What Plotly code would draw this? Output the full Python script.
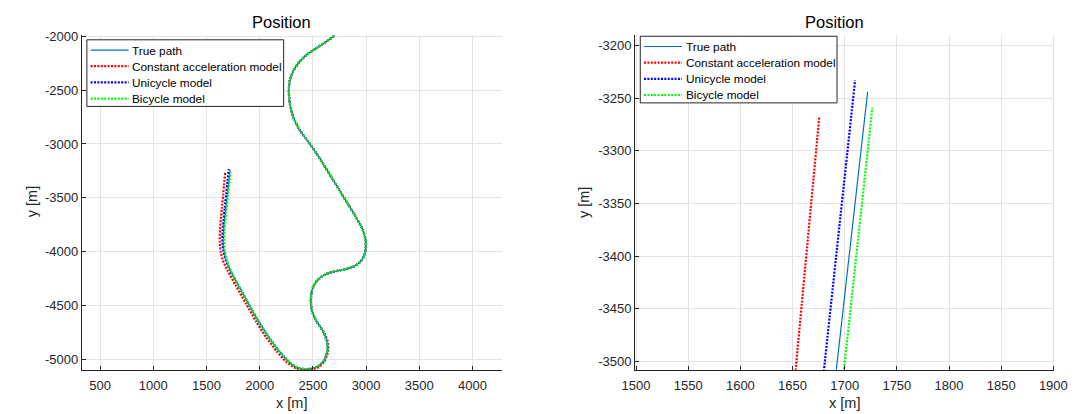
import plotly.graph_objects as go

W, H = 1083, 414
FONT = "Liberation Sans, Arial, sans-serif"

# Ground-truth trajectory [m]
true_x = [2702, 2617, 2525, 2449, 2372, 2311, 2280, 2274, 2284, 2315, 2375, 2450, 2535,
          2612, 2690, 2765, 2840, 2910, 2965, 2995, 2997, 2985, 2950, 2890, 2800, 2700,
          2620, 2540, 2495, 2480, 2492, 2535, 2595, 2630, 2638, 2605, 2540, 2446, 2351,
          2260, 2180, 2085, 1990, 1895, 1800, 1725, 1685, 1664, 1658, 1662, 1670, 1681.5, 1722]
true_y = [-1995, -2056, -2116, -2165, -2239, -2331, -2422, -2514, -2630, -2750, -2870, -2970, -3090,
          -3210, -3335, -3455, -3575, -3690, -3790, -3890, -3960, -4030, -4090, -4135, -4165, -4185,
          -4210, -4268, -4345, -4450, -4555, -4650, -4740, -4830, -4910, -5010, -5070, -5092, -5077,
          -5010, -4920, -4795, -4650, -4485, -4315, -4175, -4075, -3985, -3900, -3800, -3700, -3600, -3244]

# Constant acceleration model estimate
ca_x = [2702, 2617, 2525, 2449, 2372, 2311, 2280, 2274, 2284, 2315, 2375, 2450, 2535,
        2612, 2690, 2765, 2840, 2910, 2965, 2995, 2997, 2985, 2950, 2890, 2800, 2700,
        2620, 2540, 2495, 2480, 2492, 2535, 2600, 2638, 2646, 2612, 2545, 2446, 2345,
        2245, 2160, 2063, 1968, 1872, 1775, 1697, 1655, 1633, 1624, 1627, 1635, 1644.3, 1675.7]
ca_y = [-1995, -2056, -2116, -2165, -2239, -2331, -2422, -2514, -2630, -2750, -2870, -2970, -3090,
        -3210, -3335, -3455, -3575, -3690, -3790, -3890, -3960, -4030, -4090, -4135, -4165, -4185,
        -4210, -4268, -4345, -4450, -4555, -4650, -4740, -4830, -4910, -5015, -5078, -5100, -5085,
        -5020, -4925, -4800, -4652, -4485, -4315, -4175, -4085, -4000, -3900, -3800, -3700, -3600, -3267]

# Unicycle model estimate
uni_x = [2702, 2617, 2525, 2449, 2372, 2311, 2280, 2274, 2284, 2315, 2375, 2450, 2535,
         2612, 2690, 2765, 2840, 2910, 2965, 2995, 2997, 2985, 2950, 2890, 2800, 2700,
         2620, 2540, 2495, 2480, 2492, 2535, 2595, 2630, 2638, 2605, 2540, 2446, 2351,
         2260, 2180, 2085, 1990, 1895, 1800, 1722, 1680, 1657, 1649, 1652, 1661, 1670.4, 1710]
uni_y = [-1995, -2056, -2116, -2165, -2239, -2331, -2422, -2514, -2630, -2750, -2870, -2970, -3090,
         -3210, -3335, -3455, -3575, -3690, -3790, -3890, -3960, -4030, -4090, -4135, -4165, -4185,
         -4210, -4268, -4345, -4450, -4555, -4650, -4740, -4830, -4910, -5010, -5070, -5092, -5077,
         -5010, -4920, -4795, -4650, -4485, -4315, -4175, -4075, -3985, -3900, -3800, -3700, -3600, -3233]

# Bicycle model estimate
bic_x = [2702, 2617, 2525, 2449, 2372, 2311, 2280, 2274, 2284, 2315, 2375, 2450, 2535,
         2612, 2690, 2765, 2840, 2910, 2965, 2995, 2997, 2985, 2950, 2890, 2800, 2700,
         2620, 2540, 2495, 2480, 2492, 2535, 2595, 2630, 2638, 2605, 2540, 2446, 2351,
         2260, 2180, 2085, 1990, 1895, 1800, 1728, 1690, 1672, 1667, 1670, 1678, 1689.2, 1726.5]
bic_y = [-1995, -2056, -2116, -2165, -2239, -2331, -2422, -2514, -2630, -2750, -2870, -2970, -3090,
         -3210, -3335, -3455, -3575, -3690, -3790, -3890, -3960, -4030, -4090, -4135, -4165, -4185,
         -4210, -4268, -4345, -4450, -4555, -4650, -4740, -4830, -4910, -5010, -5070, -5092, -5077,
         -5010, -4920, -4795, -4650, -4485, -4315, -4175, -4075, -3985, -3900, -3800, -3700, -3600, -3259]

# Tick values for the overview and the zoomed panel
full_xticks = [500, 1000, 1500, 2000, 2500, 3000, 3500, 4000]
full_yticks = [-5000, -4500, -4000, -3500, -3000, -2500, -2000]
zoom_xticks = [1500, 1550, 1600, 1650, 1700, 1750, 1800, 1850, 1900]
zoom_yticks = [-3500, -3450, -3400, -3350, -3300, -3250, -3200]

DOT = "2px,1.4px"
series = [
    ("True path", true_x, true_y, dict(color="#0072BD", width=1.2)),
    ("Constant acceleration model", ca_x, ca_y, dict(color="#FF0000", width=2.2, dash=DOT)),
    ("Unicycle model", uni_x, uni_y, dict(color="#0000FF", width=2.2, dash=DOT)),
    ("Bicycle model", bic_x, bic_y, dict(color="#00FF00", width=2.2, dash=DOT)),
]

fig = go.Figure()
for xa, ya in [("x", "y"), ("x2", "y2")]:
    for name, xs, ys, line in series:
        fig.add_trace(go.Scatter(
            x=xs, y=ys, mode="lines", name=name,
            line=dict(**line, shape="spline", smoothing=0.6),
            xaxis=xa, yaxis=ya, showlegend=False, hoverinfo="skip",
        ))


def px_x(p):
    return p / W


def px_y(p):
    return 1 - p / H


def tick_text(vals):
    # plain hyphen-minus for negative values
    return [str(v) for v in vals]


axis_style = dict(
    showline=True, linecolor="#262626", linewidth=1, mirror=False,
    ticks="inside", ticklen=4, tickwidth=1, tickcolor="#262626",
    showgrid=True, gridcolor="#E3E3E3", gridwidth=1, zeroline=False,
    tickfont=dict(family=FONT, size=13, color="#262626"),
)

y_dom = [px_y(369.2), px_y(29.3)]

fig.update_layout(
    width=W, height=H,
    margin=dict(l=0, r=0, t=0, b=0),
    paper_bgcolor="white", plot_bgcolor="white",
    showlegend=False,
    xaxis=dict(domain=[px_x(70.5), px_x(501)], range=[328, 4277], ticklabelstandoff=4,
               tickvals=full_xticks, ticktext=tick_text(full_xticks), anchor="y", **axis_style),
    yaxis=dict(domain=y_dom, range=[-5098, -1987],
               tickvals=full_yticks, ticktext=tick_text(full_yticks), anchor="x", **axis_style),
    xaxis2=dict(domain=[px_x(637.3), px_x(1067)], range=[1499, 1901], ticklabelstandoff=4,
                tickvals=zoom_xticks, ticktext=tick_text(zoom_xticks), anchor="y2", **axis_style),
    yaxis2=dict(domain=y_dom, range=[-3508, -3190],
                tickvals=zoom_yticks, ticktext=tick_text(zoom_yticks), anchor="x2", **axis_style),
)


def add_legend(left, top):
    """Boxed legend in the upper-left corner of a panel (pixel coordinates)."""
    width, height, row0, row_h = 201.6, 67.6, 10.4, 16.4
    fig.add_shape(type="rect", xref="paper", yref="paper",
                  x0=px_x(left), x1=px_x(left + width),
                  y0=px_y(top + height), y1=px_y(top),
                  line=dict(color="#262626", width=1), fillcolor="white", layer="above")
    for i, (name, _, _, line) in enumerate(series):
        cy = top + row0 + row_h * i
        fig.add_shape(type="line", xref="paper", yref="paper",
                      x0=px_x(left + 3.8), x1=px_x(left + 42.7),
                      y0=px_y(cy), y1=px_y(cy), line=line, layer="above")
        fig.add_annotation(text=name, x=px_x(left + 44.5), y=px_y(cy + 0.5),
                           xref="paper", yref="paper", xanchor="left", yanchor="middle",
                           showarrow=False, font=dict(family=FONT, size=11.8, color="#000000"))


add_legend(75.7, 34.3)
add_legend(642.7, 30.7)

# Titles and axis labels
labels = [
    ("Position", 275.4, 16.7, 16.5, "#000000", 0),
    ("Position", 842.1, 16.7, 16.5, "#000000", 0),
    ("x [m]", 285.7, 403.3, 14.5, "#262626", 0),
    ("x [m]", 852.2, 403.3, 14.5, "#262626", 0),
    ("y [m]", 19.6, 199, 14.5, "#262626", -90),
    ("y [m]", 585, 199, 14.5, "#262626", -90),
]
for text, cx, cy, size, color, angle in labels:
    fig.add_annotation(
        text=text, x=px_x(cx), y=px_y(cy), xref="paper", yref="paper",
        xanchor="center", yanchor="middle", showarrow=False, textangle=angle,
        font=dict(family=FONT, size=size, color=color),
    )

fig.write_html("out.html")
